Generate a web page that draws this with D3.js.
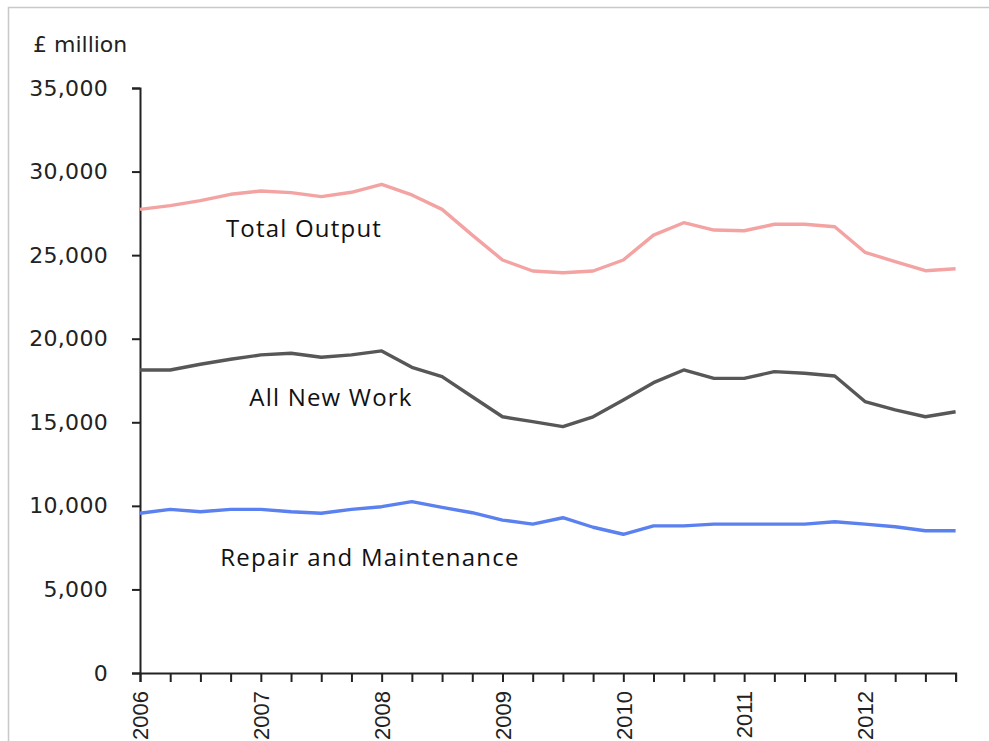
<!DOCTYPE html>
<html>
<head>
<meta charset="utf-8">
<script src="https://cdn.jsdelivr.net/npm/d3@7"></script>
<style>
  html, body { margin: 0; padding: 0; background: #fff; }
  svg { display: block; }
</style>
</head>
<body>
<div id="chart"></div>
<script>
// quarterly data, 2006 Q1 .. 2012 Q4
const years = [2006, 2007, 2008, 2009, 2010, 2011, 2012];
const quarters = d3.range(28);
const yTicks = [0, 5000, 10000, 15000, 20000, 25000, 30000, 35000];

const totalOutput = [
  27740, 27960, 28260, 28640, 28840, 28740, 28500, 28760,
  29240, 28600, 27740, 26200, 24710, 24050, 23950, 24050,
  24710, 26200, 26940, 26500, 26460, 26850, 26850, 26700,
  25170, 24610, 24070, 24190
];
const allNewWork = [
  18130, 18130, 18470, 18770, 19030, 19130, 18890, 19030,
  19270, 18290, 17730, 16530, 15330, 15040, 14740, 15330,
  16330, 17370, 18130, 17630, 17630, 18030, 17930, 17770,
  16240, 15740, 15330, 15630
];
const repairMaint = [
  9560, 9790, 9650, 9790, 9790, 9650, 9560, 9790,
  9950, 10250, 9910, 9590, 9150, 8910, 9290, 8720,
  8300, 8800, 8800, 8910, 8910, 8910, 8910, 9050,
  8910, 8750, 8510, 8510
];

const series = [
  { name: 'Total Output', values: totalOutput, color: '#f4a3a3', lx: 304, ly: 237 },
  { name: 'All New Work', values: allNewWork, color: '#575757', lx: 331, ly: 406 },
  { name: 'Repair and Maintenance', values: repairMaint, color: '#5b80f0', lx: 370, ly: 566 }
];

const width = 989, height = 741;
const svg = d3.select('#chart').append('svg')
  .attr('width', width)
  .attr('height', height);

// outer frame (top and left edges visible)
svg.append('path')
  .attr('d', 'M8.5,741 V7.5 H989')
  .attr('fill', 'none')
  .attr('stroke', '#c8c8c8')
  .attr('stroke-width', 1.5);

const x = d3.scaleLinear().domain([0, 27]).range([140, 955.6]);
const y = d3.scaleLinear().domain([0, 35000]).range([673, 88]);

const font = '"DejaVu Sans", Verdana, sans-serif';
const yearFont = '"Liberation Sans", Arial, sans-serif';
const labelFont = '"Open Sans", Lato, sans-serif';

// y axis
const yAxis = svg.append('g')
  .attr('transform', 'translate(140,0)')
  .call(d3.axisLeft(y).tickValues(yTicks).tickSize(8).tickPadding(24)
    .tickFormat(d3.format(',')));
yAxis.selectAll('text')
  .attr('font-family', font)
  .attr('font-size', 22)
  .attr('letter-spacing', 0.3)
  .attr('fill', '#222');

// x axis with quarterly ticks
const xAxis = svg.append('g')
  .attr('transform', 'translate(0,673)')
  .call(d3.axisBottom(x).tickValues(quarters).tickSize(9)
    .tickFormat(d => d % 4 === 0 ? String(years[d / 4]) : ''));
xAxis.selectAll('text')
  .attr('font-family', yearFont)
  .attr('font-size', 22)
  .attr('fill', '#222')
  .attr('transform', 'rotate(-90)')
  .attr('text-anchor', 'end')
  .attr('dy', '0.35em')
  .attr('x', -18)
  .attr('y', 0);

svg.selectAll('.domain, .tick line')
  .attr('stroke', '#222')
  .attr('stroke-width', 2);

// lines
const line = d3.line()
  .x((d, i) => x(i))
  .y(d => y(d));

svg.append('g').selectAll('path')
  .data(series)
  .enter()
  .append('path')
  .attr('d', d => line(d.values))
  .attr('fill', 'none')
  .attr('stroke', d => d.color)
  .attr('stroke-width', 3.4)
  .attr('stroke-linejoin', 'round');

// series labels
svg.append('g').selectAll('text')
  .data(series)
  .enter()
  .append('text')
  .attr('x', d => d.lx)
  .attr('y', d => d.ly)
  .attr('text-anchor', 'middle')
  .attr('font-family', labelFont)
  .attr('font-size', 24)
  .attr('letter-spacing', 1.2)
  .attr('fill', '#111')
  .text(d => d.name);

// unit label
svg.append('text')
  .attr('x', 33)
  .attr('y', 52)
  .attr('font-family', font)
  .attr('font-size', 22)
  .attr('fill', '#222')
  .text('£ million');
</script>
</body>
</html>
